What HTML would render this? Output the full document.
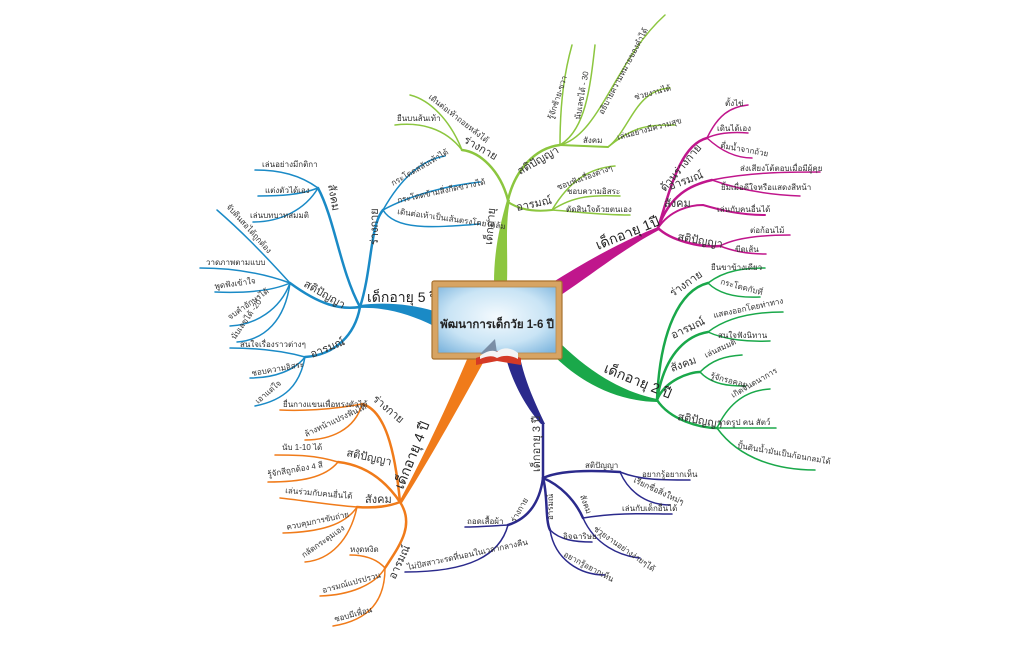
<!DOCTYPE html>
<html><head><meta charset="utf-8"><style>
html,body{margin:0;padding:0;background:#fff;}
svg text{font-family:"Liberation Sans","Noto Sans CJK SC",sans-serif;fill:#333;}
.l{font-size:8px}.s{font-size:11px}.m{font-size:14px;fill:#222}
path{fill:none;stroke-linecap:round}
</style></head><body>
<svg width="1024" height="644" viewBox="0 0 1024 644" xmlns="http://www.w3.org/2000/svg">
<defs>
<radialGradient id="bd" cx=".5" cy=".45" r=".7"><stop offset="0" stop-color="#f4fafe"/><stop offset=".6" stop-color="#c9e4f5"/><stop offset="1" stop-color="#7fb6de"/></radialGradient>
</defs>

<!-- GREEN top -->
<path style="fill:#8cc63f;stroke:none" d="M494 283 C494 250 500 225 507 200 L510 200 C505 225 508 250 507 283 Z"/>
<g stroke="#8cc63f">
<path d="M508 200 C500 170 480 152 462 150" stroke-width="2.5"/>
<path d="M462 150 C445 128 420 122 395 125" stroke-width="1.5"/>
<path d="M462 150 C450 120 430 100 410 95" stroke-width="1.5"/>
<path d="M508 200 C515 170 535 148 560 145" stroke-width="2.5"/>
<path d="M560 145 C560 100 565 70 572 45" stroke-width="1.5"/>
<path d="M560 145 C585 130 590 90 595 45" stroke-width="1.5"/>
<path d="M560 145 C600 135 615 60 665 15" stroke-width="1.5"/>
<path d="M560 145 L608 147" stroke-width="2"/>
<path d="M608 147 C630 130 635 90 670 88" stroke-width="1.5"/>
<path d="M608 147 C635 125 650 125 675 125" stroke-width="1.5"/>
<path d="M508 202 C520 210 535 212 552 210" stroke-width="2"/>
<path d="M552 210 C570 180 590 168 615 166" stroke-width="1.5"/>
<path d="M552 210 C575 195 595 195 620 196" stroke-width="1.5"/>
<path d="M552 210 C580 212 600 215 630 215" stroke-width="1.5"/>
</g>
<g>
<text class="s" transform="translate(492,245) rotate(-85)">เด็กอายุ</text>
<text class="s" transform="translate(463,142) rotate(30)">ร่างกาย</text>
<text class="l" x="397" y="121">ยืนบนส้นเท้า</text>
<text class="l" transform="translate(428,98) rotate(38)">เดินต่อเท้าถอยหลังได้</text>
<text class="s" transform="translate(520,175) rotate(-30)">สติปัญญา</text>
<text class="l" transform="translate(553,120) rotate(-72)">รู้จักซ้าย-ขวา</text>
<text class="l" transform="translate(580,120) rotate(-80)">นับเลขได้ - 30</text>
<text class="l" transform="translate(603,115) rotate(-62)">อธิบายความหมายของคำได้</text>
<text class="l" x="583" y="143">สังคม</text>
<text class="l" transform="translate(635,100) rotate(-15)">ช่วยงานได้</text>
<text class="l" transform="translate(618,140) rotate(-15)">เล่นอย่างมีความสุข</text>
<text class="s" transform="translate(517,211) rotate(-12)">อารมณ์</text>
<text class="l" transform="translate(558,190) rotate(-20)">ชอบฟังเรื่องต่างๆ</text>
<text class="l" x="567" y="194">ชอบความอิสระ</text>
<text class="l" x="566" y="212">ตัดสินใจด้วยตนเอง</text>
</g>

<!-- MAGENTA -->
<path style="fill:#c0168c;stroke:none" d="M550 284 C585 262 620 242 658 227 L659 230 C625 248 595 272 561 295 Z"/>
<g stroke="#c0168c">
<path d="M658 228 C670 190 680 145 707 138" stroke-width="2.5"/>
<path d="M707 138 C718 115 730 107 748 105" stroke-width="1.5"/>
<path d="M707 138 C720 132 735 132 748 133" stroke-width="1.5"/>
<path d="M707 138 C720 150 735 158 752 158" stroke-width="1.5"/>
<path d="M658 228 C670 195 690 185 712 180" stroke-width="2.5"/>
<path d="M712 180 C750 172 790 172 820 172" stroke-width="1.5"/>
<path d="M712 180 C740 190 770 195 800 196" stroke-width="1.5"/>
<path d="M658 228 C670 210 690 205 703 205 C720 210 740 215 765 215" stroke-width="2"/>
<path d="M658 228 C670 240 700 248 720 246" stroke-width="2.5"/>
<path d="M720 246 C735 238 760 235 790 235" stroke-width="1.5"/>
<path d="M720 246 C735 252 750 254 766 254" stroke-width="1.5"/>
</g>
<g>
<text class="m" transform="translate(598,250) rotate(-22)">เด็กอายุ 1ปี</text>
<text class="s" transform="translate(665,192) rotate(-50)">ด้านร่างกาย</text>
<text class="l" x="725" y="106">ตั้งไข่</text>
<text class="l" x="717" y="131">เดินได้เอง</text>
<text class="l" transform="translate(720,148) rotate(10)">ดื่มน้ำจากถ้วย</text>
<text class="s" transform="translate(670,190) rotate(-20)">อารมณ์</text>
<text class="l" x="740" y="171">ส่งเสียงโต้ตอบเมื่อมีผู้คุย</text>
<text class="l" x="721" y="190">ยิ้มเมื่อดีใจหรือแสดงสีหน้า</text>
<text class="s" x="664" y="207">สังคม</text>
<text class="l" x="717" y="212">เล่นกับคนอื่นได้</text>
<text class="s" transform="translate(677,240) rotate(10)">สติปัญญา</text>
<text class="l" x="750" y="233">ต่อก้อนไม้</text>
<text class="l" x="735" y="252">ขีดเส้น</text>
</g>

<!-- GREEN 2 -->
<path style="fill:#1aa84a;stroke:none" d="M561 344 C590 372 622 392 657 399 L657 402 C620 401 585 386 555 357 Z"/>
<g stroke="#1aa84a">
<path d="M657 400 C660 330 680 290 708 283" stroke-width="2.5"/>
<path d="M708 283 C725 270 745 268 765 268" stroke-width="1.5"/>
<path d="M708 283 C720 295 740 298 760 297" stroke-width="1.5"/>
<path d="M657 400 C665 350 690 335 708 332" stroke-width="2.5"/>
<path d="M708 332 C730 315 760 312 783 312" stroke-width="1.5"/>
<path d="M708 332 C725 340 750 342 770 341" stroke-width="1.5"/>
<path d="M657 400 C665 380 690 372 700 372" stroke-width="2.5"/>
<path d="M700 372 C712 360 725 356 742 355" stroke-width="1.5"/>
<path d="M700 372 C712 385 730 386 745 386" stroke-width="1.5"/>
<path d="M657 400 C670 420 700 428 717 428" stroke-width="2.5"/>
<path d="M717 428 C730 400 750 390 770 389" stroke-width="1.5"/>
<path d="M717 428 C740 428 760 428 776 428" stroke-width="1.5"/>
<path d="M717 428 C740 460 780 470 815 470" stroke-width="1.5"/>
</g>
<g>
<text class="m" transform="translate(603,372) rotate(22)">เด็กอายุ 2 ปี</text>
<text class="s" transform="translate(673,297) rotate(-35)">ร่างกาย</text>
<text class="l" x="711" y="270">ยืนขาข้างเดียว</text>
<text class="l" transform="translate(720,284) rotate(15)">กระโดดกับที่</text>
<text class="s" transform="translate(673,339) rotate(-25)">อารมณ์</text>
<text class="l" transform="translate(714,318) rotate(-12)">แสดงออกโดยท่าทาง</text>
<text class="l" x="718" y="338">สนใจฟังนิทาน</text>
<text class="s" transform="translate(672,372) rotate(-20)">สังคม</text>
<text class="l" transform="translate(706,358) rotate(-25)">เล่นสมมติ</text>
<text class="l" transform="translate(710,378) rotate(15)">รู้จักรอคอย</text>
<text class="s" transform="translate(677,420) rotate(10)">สติปัญญา</text>
<text class="l" transform="translate(733,398) rotate(-30)">เกิดจินตนาการ</text>
<text class="l" x="717" y="425">วาดรูป คน สัตว์</text>
<text class="l" transform="translate(737,448) rotate(10)">ปั้นดินน้ำมันเป็นก้อนกลมได้</text>
</g>

<!-- NAVY -->
<path style="fill:#2b2a8c;stroke:none" d="M506 358 C514 388 530 412 541 424 L545 424 C536 405 525 382 520 357 Z"/>
<g stroke="#2b2a8c">
<path d="M543 423 L543 478" stroke-width="2.5"/>
<path d="M543 478 C560 470 590 470 620 472" stroke-width="2.5"/>
<path d="M620 472 C640 480 660 480 690 480" stroke-width="1.5"/>
<path d="M620 472 C630 495 650 505 670 505" stroke-width="1.5"/>
<path d="M543 478 C560 485 575 500 583 518" stroke-width="2.5"/>
<path d="M583 518 C620 512 650 514 672 514" stroke-width="1.5"/>
<path d="M583 518 C595 545 620 556 640 558" stroke-width="1.5"/>
<path d="M543 478 C548 495 545 520 550 530" stroke-width="2.5"/>
<path d="M550 530 C560 540 575 542 592 542" stroke-width="1.5"/>
<path d="M550 530 C555 560 580 575 605 575" stroke-width="1.5"/>
<path d="M543 478 C540 500 530 518 508 525" stroke-width="2.5"/>
<path d="M508 525 C490 526 475 527 465 527" stroke-width="1.5"/>
<path d="M508 525 C500 555 470 572 405 572" stroke-width="1.5"/>
</g>
<g>
<text class="s" transform="translate(540,472) rotate(-90)">เด็กอายุ 3 ปี</text>
<text class="l" x="585" y="468">สติปัญญา</text>
<text class="l" x="642" y="477">อยากรู้อยากเห็น</text>
<text class="l" transform="translate(633,482) rotate(25)">เรียกชื่อสิ่งใหม่ๆ</text>
<text class="l" transform="translate(580,496) rotate(70)">สังคม</text>
<text class="l" x="622" y="511">เล่นกับเด็กอื่นได้</text>
<text class="l" transform="translate(593,530) rotate(35)">ช่วยงานอย่างง่ายๆได้</text>
<text class="l" transform="translate(553,520) rotate(-90)">อารมณ์</text>
<text class="l" x="563" y="539">อิจฉาริษยา</text>
<text class="l" transform="translate(563,556) rotate(28)">อยากรู้อยากเห็น</text>
<text class="l" transform="translate(515,523) rotate(-60)">ร่างกาย</text>
<text class="l" x="467" y="524">ถอดเสื้อผ้า</text>
<text class="l" transform="translate(408,570) rotate(-12)">ไม่ปัสสาวะรดที่นอนในเวลากลางคืน</text>
</g>

<!-- ORANGE -->
<path style="fill:#f07b1a;stroke:none" d="M468 357 C450 400 422 460 399 502 L402 503 C428 462 460 405 484 361 Z"/>
<g stroke="#f07b1a">
<path d="M400 502 C395 450 385 410 362 404" stroke-width="2.5"/>
<path d="M362 404 C330 410 300 411 280 410" stroke-width="1.5"/>
<path d="M362 404 C355 430 330 440 305 440" stroke-width="1.5"/>
<path d="M400 502 C385 480 365 465 338 462" stroke-width="2.5"/>
<path d="M338 462 C315 455 295 455 275 455" stroke-width="1.5"/>
<path d="M338 462 C325 478 300 482 268 482" stroke-width="1.5"/>
<path d="M400 502 C385 508 370 508 357 507" stroke-width="2.5"/>
<path d="M357 507 C330 505 300 500 280 498" stroke-width="1.5"/>
<path d="M357 507 C345 525 320 532 283 533" stroke-width="1.5"/>
<path d="M357 507 C350 540 330 560 305 562" stroke-width="1.5"/>
<path d="M400 502 C415 525 400 545 385 568" stroke-width="2.5"/>
<path d="M385 568 C375 557 360 555 350 555" stroke-width="1.5"/>
<path d="M385 568 C375 585 350 595 320 596" stroke-width="1.5"/>
<path d="M385 568 C385 600 370 620 333 626" stroke-width="1.5"/>
</g>
<g>
<text class="m" transform="translate(403,490) rotate(-68)">เด็กอายุ 4 ปี</text>
<text class="s" transform="translate(372,400) rotate(40)">ร่างกาย</text>
<text class="l" x="283" y="407">ยื่นกางแขนเพื่อทรงตัวได้</text>
<text class="l" transform="translate(306,437) rotate(-25)">ล้างหน้าแปรงฟันได้</text>
<text class="s" transform="translate(346,456) rotate(12)">สติปัญญา</text>
<text class="l" x="282" y="450">นับ 1-10 ได้</text>
<text class="l" transform="translate(268,477) rotate(-10)">รู้จักสีถูกต้อง 4 สี</text>
<text class="s" x="365" y="503">สังคม</text>
<text class="l" transform="translate(285,493) rotate(5)">เล่นร่วมกับคนอื่นได้</text>
<text class="l" transform="translate(287,530) rotate(-12)">ควบคุมการขับถ่าย</text>
<text class="l" transform="translate(304,558) rotate(-35)">กลัดกระดุมเอง</text>
<text class="s" transform="translate(395,580) rotate(-65)">อารมณ์</text>
<text class="l" x="350" y="552">หงุดหงิด</text>
<text class="l" transform="translate(323,593) rotate(-15)">อารมณ์แปรปรวน</text>
<text class="l" transform="translate(335,622) rotate(-15)">ชอบมีเพื่อน</text>
</g>

<!-- BLUE -->
<path style="fill:#1a8ac6;stroke:none" d="M434 311 C410 304 385 302 360 305 L360 308 C385 307 410 314 434 326 Z"/>
<g stroke="#1a8ac6">
<path d="M360 307 C372 270 370 225 383 210" stroke-width="2.5"/>
<path d="M383 210 C400 180 420 160 445 156" stroke-width="1.5"/>
<path d="M383 210 C410 195 450 185 480 182" stroke-width="1.5"/>
<path d="M383 210 C395 230 430 228 480 224" stroke-width="1.5"/>
<path d="M360 307 C340 270 335 220 318 188" stroke-width="2.5"/>
<path d="M318 188 C300 175 280 170 255 170" stroke-width="1.5"/>
<path d="M318 188 C300 195 280 196 258 196" stroke-width="1.5"/>
<path d="M318 188 C305 210 280 222 253 222" stroke-width="1.5"/>
<path d="M360 307 C340 310 320 305 290 283" stroke-width="2.5"/>
<path d="M290 283 C260 250 240 230 217 210" stroke-width="1.5"/>
<path d="M290 283 C260 272 230 268 200 268" stroke-width="1.5"/>
<path d="M290 283 C270 292 240 293 215 292" stroke-width="1.5"/>
<path d="M290 283 C280 310 255 325 230 326" stroke-width="1.5"/>
<path d="M290 283 C285 320 265 340 237 342" stroke-width="1.5"/>
<path d="M360 307 C355 335 335 355 305 357" stroke-width="2.5"/>
<path d="M305 357 C280 350 255 348 230 348" stroke-width="1.5"/>
<path d="M305 357 C295 370 275 378 250 378" stroke-width="1.5"/>
<path d="M305 357 C300 385 285 400 255 406" stroke-width="1.5"/>
</g>
<g>
<text class="m" x="367" y="302">เด็กอายุ 5 ปี</text>
<text class="s" transform="translate(378,245) rotate(-90)">ร่างกาย</text>
<text class="l" transform="translate(393,186) rotate(-30)">กระโดดสลับเท้าได้</text>
<text class="l" transform="translate(398,203) rotate(-12)">กระโดดข้ามสิ่งกีดขวางได้</text>
<text class="l" transform="translate(397,214) rotate(8)">เดินต่อเท้าเป็นเส้นตรงโดยไม่ล้ม</text>
<text class="s" transform="translate(328,185) rotate(80)">สังคม</text>
<text class="l" x="262" y="167">เล่นอย่างมีกติกา</text>
<text class="l" x="265" y="193">แต่งตัวได้เอง</text>
<text class="l" x="250" y="218">เล่นบทบาทสมมติ</text>
<text class="s" transform="translate(303,286) rotate(30)">สติปัญญา</text>
<text class="l" transform="translate(226,207) rotate(48)">จับดินสอได้ถูกต้อง</text>
<text class="l" x="206" y="265">วาดภาพตามแบบ</text>
<text class="l" transform="translate(215,289) rotate(-8)">พูดฟังเข้าใจ</text>
<text class="l" transform="translate(230,320) rotate(-35)">จบคำอักษรได้</text>
<text class="l" transform="translate(235,340) rotate(-55)">นับเลขได้ -20</text>
<text class="s" transform="translate(312,358) rotate(-22)">อารมณ์</text>
<text class="l" x="240" y="347">สนใจเรื่องราวต่างๆ</text>
<text class="l" transform="translate(252,376) rotate(-10)">ชอบความอิสระ</text>
<text class="l" transform="translate(258,404) rotate(-40)">เอาแต่ใจ</text>
</g>

<!-- CENTER BOARD -->
<rect x="432" y="281" width="130" height="78" rx="2" fill="#d7a463" stroke="#a8722f" stroke-width="1.2"/>
<rect x="438" y="287" width="118" height="66" fill="url(#bd)" stroke="#b98a4c" stroke-width="0.8"/>
<text x="497" y="328" text-anchor="middle" style="font-size:11.5px;font-weight:bold;fill:#222">พัฒนาการเด็กวัย 1-6 ปี</text>
<g>
<path style="fill:#d43a26;stroke:none" d="M476 358 L497 351 L521 358 L521 365 L497 361 L476 365 Z"/>
<path style="fill:#7a8ea6;stroke:none" d="M480 354 L495 339 L497 353 Z"/>
<path style="fill:#f4f4f4;stroke:none" d="M480 356 C488 350 494 350 497 352 L497 358 C492 355 487 356 480 359 Z"/>
<path style="fill:#f4f4f4;stroke:none" d="M497 352 C502 347 511 347 518 353 L518 359 C511 355 503 355 497 358 Z"/>
</g>
</svg>
</body></html>
